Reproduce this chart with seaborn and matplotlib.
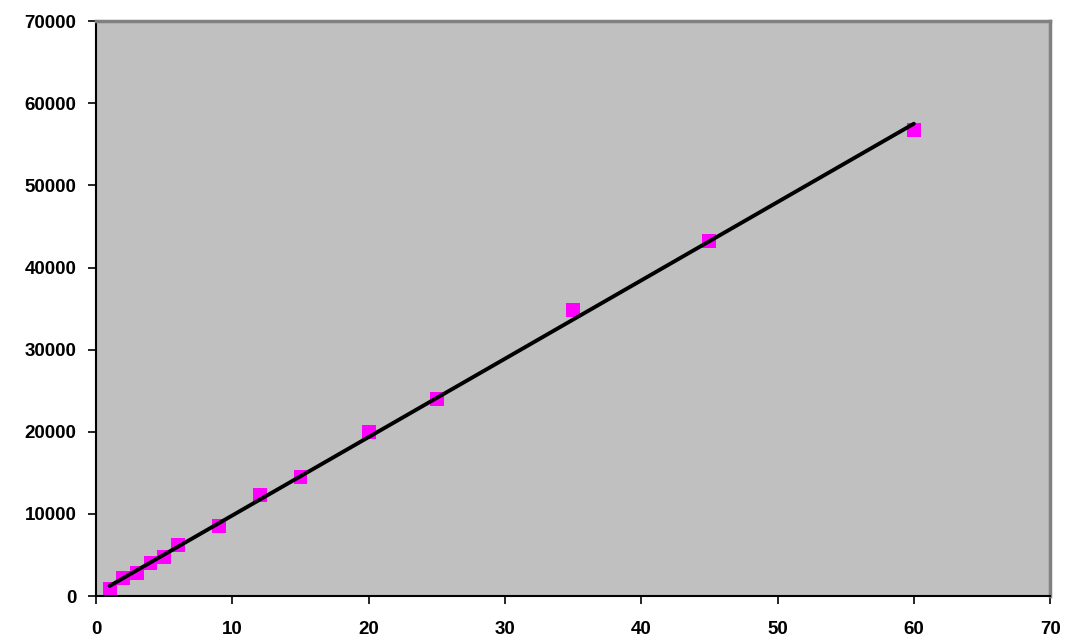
import numpy as np
import seaborn as sns
import matplotlib.pyplot as plt

# data
x_vals = [1, 2, 3, 4, 5, 6, 9, 12, 15, 20, 25, 35, 45, 60]
y_vals = [850, 2200, 2800, 4000, 4750, 6200, 8500, 12300, 14500, 20000, 24000, 34800, 43200, 56700]
x_ticks = [0, 10, 20, 30, 40, 50, 60, 70]
y_ticks = [0, 10000, 20000, 30000, 40000, 50000, 60000, 70000]

sns.set_style("white")
plt.rcParams['font.family'] = ['Liberation Sans', 'DejaVu Sans']

fig = plt.figure(figsize=(10.69, 6.41), dpi=100)
ax = fig.add_axes([0.0898, 0.070, 0.8926, 0.897])
ax.set_facecolor('#C0C0C0')

# scatter + linear trend line
sns.regplot(x=x_vals, y=y_vals, ax=ax, ci=None, marker='s',
            scatter_kws={'color': '#FF00FF', 's': 100, 'alpha': 1, 'edgecolor': 'none', 'zorder': 2},
            line_kws={'color': 'black', 'linewidth': 2.8, 'zorder': 3})

ax.set_xlim(0, 70)
ax.set_ylim(0, 70000)
ax.set_xticks(x_ticks)
ax.set_yticks(y_ticks)
ax.set_xticklabels([str(t) for t in x_ticks], fontsize=13.5, fontweight='bold', color='black')
ax.set_yticklabels([str(t) for t in y_ticks], fontsize=13.5, fontweight='bold', color='black')
ax.tick_params(axis='both', direction='out', length=6, width=1.2, color='black',
               bottom=True, left=True)
ax.tick_params(axis='x', pad=12)
ax.tick_params(axis='y', pad=8)

for side in ['left', 'bottom']:
    ax.spines[side].set_color('black')
    ax.spines[side].set_linewidth(1.5)
for side in ['top', 'right']:
    ax.spines[side].set_color('#808080')
    ax.spines[side].set_linewidth(2.5)

ax.set_xlabel('')
ax.set_ylabel('')
fig.savefig('out.png', dpi=100)
